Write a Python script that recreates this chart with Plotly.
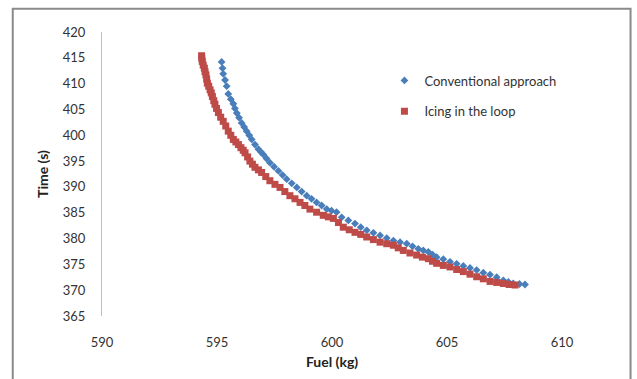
import plotly.graph_objects as go

conv_fuel = [595.20, 595.24, 595.27, 595.35, 595.42, 595.49, 595.60, 595.71, 595.78, 595.86,
             595.96, 596.07, 596.18, 596.29, 596.40, 596.51, 596.65, 596.80, 596.90, 597.01,
             597.15, 597.30, 597.48, 597.67, 597.85, 598.03, 598.25, 598.47, 598.68, 598.90,
             599.11, 599.33, 599.55, 599.77, 599.98, 600.20, 600.42, 600.71, 601.00, 601.25,
             601.51, 601.80, 602.09, 602.38, 602.67, 602.96, 603.25, 603.50, 603.75, 603.97,
             604.19, 604.37, 604.55, 604.84, 605.13, 605.42, 605.71, 606.00, 606.29, 606.58,
             606.87, 607.16, 607.45, 607.67, 607.88, 608.15, 608.39]
conv_time = [414.2, 413.0, 411.9, 410.7, 409.5, 408.0, 407.0, 406.1, 405.2, 404.3,
             403.4, 402.4, 401.6, 400.8, 400.0, 399.2, 398.2, 397.3, 396.8, 396.3,
             395.5, 394.7, 393.9, 393.1, 392.3, 391.5, 390.7, 389.9, 389.1, 388.3,
             387.7, 387.0, 386.4, 385.7, 385.4, 385.1, 384.1, 383.5, 382.9, 382.2,
             381.6, 381.1, 380.6, 380.1, 379.6, 379.3, 379.0, 378.5, 378.0, 377.7,
             377.4, 376.9, 376.4, 376.0, 375.5, 375.1, 374.7, 374.3, 373.9, 373.4,
             373.0, 372.5, 371.9, 371.6, 371.3, 371.2, 371.1]

icing_fuel = [594.33, 594.34, 594.36, 594.40, 594.45, 594.48, 594.52, 594.55, 594.58, 594.64,
              594.70, 594.75, 594.80, 594.86, 594.91, 594.98, 595.06, 595.16, 595.27, 595.38,
              595.49, 595.60, 595.71, 595.82, 595.93, 596.04, 596.14, 596.22, 596.33, 596.43,
              596.54, 596.65, 596.80, 596.94, 597.12, 597.30, 597.52, 597.74, 597.95, 598.17,
              598.39, 598.61, 598.82, 599.04, 599.33, 599.62, 599.84, 600.06, 600.28, 600.49,
              600.75, 601.00, 601.25, 601.51, 601.80, 602.09, 602.38, 602.67, 602.88, 603.10,
              603.39, 603.68, 603.93, 604.19, 604.37, 604.55, 604.84, 605.13, 605.42, 605.71,
              606.00, 606.29, 606.58, 606.87, 607.16, 607.45, 607.70, 607.96]
icing_time = [415.4, 414.9, 414.3, 413.6, 413.0, 412.3, 411.7, 410.9, 410.1, 409.5,
              408.8, 408.2, 407.5, 406.7, 406.0, 405.2, 404.4, 403.5, 402.7, 401.8,
              400.8, 400.0, 399.2, 398.7, 398.2, 397.6, 397.1, 396.6, 395.8, 395.0,
              394.4, 393.8, 393.3, 392.8, 392.0, 391.2, 390.5, 389.9, 389.1, 388.3,
              387.7, 387.0, 386.4, 385.7, 385.1, 384.5, 384.2, 383.9, 383.1, 382.2,
              381.7, 381.2, 380.8, 380.3, 379.8, 379.3, 379.0, 378.7, 378.2, 377.7,
              377.2, 376.8, 376.4, 376.1, 375.6, 375.2, 374.8, 374.5, 374.0, 373.6,
              373.1, 372.6, 372.2, 371.7, 371.5, 371.3, 371.1, 371.0]

x_ticks = [590, 595, 600, 605, 610]
y_ticks = [365, 370, 375, 380, 385, 390, 395, 400, 405, 410, 415, 420]

FONT = "Lato, 'Open Sans', sans-serif"

fig = go.Figure()
fig.add_trace(go.Scatter(
    x=conv_fuel, y=conv_time, mode="markers", name="Conventional approach",
    legendgroup="a",
    marker=dict(symbol="diamond", size=6, color="#4a7ebb")))
fig.add_trace(go.Scatter(
    x=icing_fuel, y=icing_time, mode="markers", name="Icing in the loop",
    legendgroup="b",
    marker=dict(symbol="square", size=7, color="#be4b48")))

fig.update_layout(
    width=637, height=379,
    margin=dict(l=102, r=75, t=32, b=61),
    paper_bgcolor="white", plot_bgcolor="white",
    font=dict(family=FONT, size=13, color="#333333"),
    showlegend=True,
    legend=dict(x=0.614, y=0.882, xanchor="left", yanchor="top",
                traceorder="grouped", tracegroupgap=11, itemwidth=30,
                bgcolor="rgba(0,0,0,0)", font=dict(size=13, color="#333333")),
    xaxis=dict(range=[590, 610], tickvals=x_ticks, showgrid=False, zeroline=False,
               showline=False, ticks="outside", ticklen=14, tickcolor="rgba(0,0,0,0)",
               title=dict(text="<b>Fuel (kg)</b>", font=dict(size=14, color="#222222"), standoff=8)),
    yaxis=dict(range=[365, 420], tickvals=y_ticks, showgrid=False, zeroline=False,
               showline=True, linecolor="#bfbfbf", linewidth=1,
               ticks="outside", ticklen=13, tickcolor="rgba(0,0,0,0)",
               title=dict(text="<b>Time (s)</b>", font=dict(size=14, color="#222222"), standoff=10)),
    shapes=[dict(type="rect", xref="paper", yref="paper",
                 x0=-0.194, x1=1.149, y0=-0.35, y1=1.082,
                 line=dict(color="#8a8a8a", width=2), fillcolor="rgba(0,0,0,0)", layer="below")],
)

fig.write_html("out.html")
